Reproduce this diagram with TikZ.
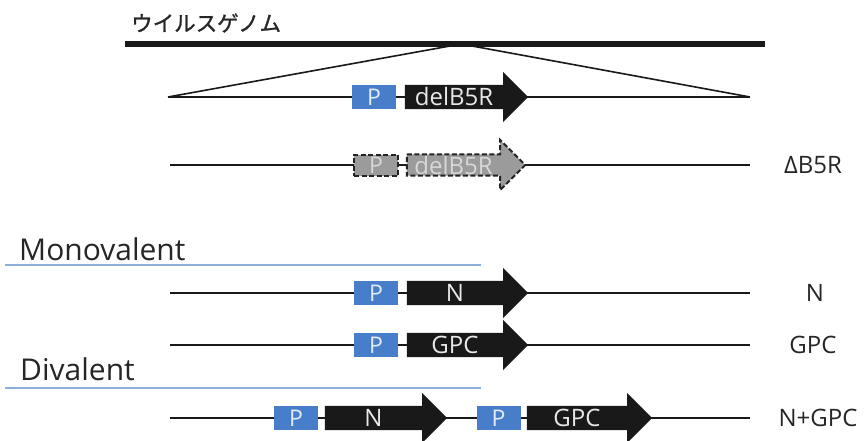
\documentclass[tikz,border=0pt]{standalone}
\usepackage{fontspec}
\setmainfont{Open Sans}
\newfontfamily\jpfont[FakeBold=1.2]{Noto Sans CJK JP}
\usetikzlibrary{calc}
\definecolor{pblue}{RGB}{72,126,201}
\definecolor{ptext}{RGB}{225,235,250}
\definecolor{lblue}{RGB}{140,175,220}
\definecolor{ablack}{RGB}{25,25,25}
\definecolor{atext}{RGB}{232,232,232}
\definecolor{gfill}{RGB}{155,155,155}
\definecolor{gtext}{RGB}{215,215,215}
\definecolor{gborder}{RGB}{35,35,35}
\pgfdeclarelayer{bg}
\pgfsetlayers{bg,main}
\newcommand\gpoly[1]{(#1.north west) -- (#1.north east) -- ($(#1.east)+(0,-25)$) -- ($(#1.east)+(25,0)$) -- ($(#1.east)+(0,25)$) -- (#1.south east) -- (#1.south west) -- cycle}
\begin{document}
\begin{tikzpicture}[x=1pt,y=-1pt,
  lbl/.style={font=\fontsize{24}{24}\selectfont, text=black!85, inner sep=0pt},
  head/.style={font=\fontsize{30}{30}\selectfont, text=black!85, inner sep=0pt, anchor=base west},
  pbox/.style={fill=pblue, minimum width=44pt, minimum height=24pt, inner sep=0pt, text=ptext, font=\fontsize{23}{23}\selectfont},
  pdash/.style={fill=gfill, draw=gborder, dash pattern=on 5pt off 2.5pt, line width=2pt, minimum width=44pt, minimum height=21pt, inner sep=0pt, text=gtext, font=\fontsize{23}{23}\selectfont},
  abody/.style={minimum height=24pt, inner sep=0pt, text=atext, font=\fontsize{24}{24}\selectfont},
  gbody/.style={minimum height=21pt, inner sep=0pt, text=gtext, font=\fontsize{24}{24}\selectfont},
  rowline/.style={draw=ablack, line width=2pt},
  genome/.style={draw=ablack, line width=6pt},
  sep/.style={draw=lblue, line width=2pt},
  blackarrow/.style={fill=ablack},
  grayarrow/.style={fill=gfill, draw=gborder, dash pattern=on 5pt off 2.5pt, line width=2pt}
]
\useasboundingbox (0,0) rectangle (866,441);

% genome
\node[anchor=west, inner sep=0pt, text=black!85, font=\jpfont\fontsize{21.5}{21.5}\selectfont] (gl) at (131,23) {ウイルスゲノム};
\coordinate (G1) at (125,44);
\coordinate (G2) at (765,44);
\coordinate (A1) at (450,46);
\coordinate (A2) at (472,46);

% row coordinates
\coordinate (L1) at (168,97);  \coordinate (R1) at (750,97);
\coordinate (L2) at (170,165); \coordinate (R2) at (750,165);
\coordinate (L3) at (170,293); \coordinate (R3) at (750,293);
\coordinate (L4) at (170,345); \coordinate (R4) at (750,345);
\coordinate (L5) at (170,418); \coordinate (R5) at (750,418);

% row 1
\node[pbox] (P1) at (374,97) {P};
\node[abody, minimum width=98pt] (B1) at (454,97) {delB5R};
% row 2
\node[pdash] (P2) at (376,165) {P};
\node[gbody, minimum width=93pt] (B2) at (453.5,165) {delB5R};
\node[lbl] (T2) at (813,165) {ΔB5R};
% monovalent
\node[head] (mono) at (19,260) {Monovalent};
\coordinate (S1a) at (5,265); \coordinate (S1b) at (481,265);
% row 3
\node[pbox] (P3) at (376,293) {P};
\node[abody, minimum width=96pt] (B3) at (455,293) {N};
\node[lbl] (T3) at (815,293) {N};
% row 4
\node[pbox] (P4) at (376,345) {P};
\node[abody, minimum width=96pt] (B4) at (455,345) {GPC};
\node[lbl] (T4) at (813,345) {GPC};
% divalent
\node[head] (di) at (20,380) {Divalent};
\coordinate (S2a) at (5,388); \coordinate (S2b) at (481,388);
% row 5
\node[pbox] (P5a) at (296,418) {P};
\node[abody, minimum width=97pt] (B5a) at (373.5,418) {N};
\node[pbox] (P5b) at (498.5,418) {P};
\node[abody, minimum width=100pt] (B5b) at (577,418) {GPC};
\node[lbl] (T5) at (818,418) {N+GPC};

\begin{pgfonlayer}{bg}
  \draw[genome] (G1) -- (G2);
  \draw[rowline, line width=1.6pt] (L1) -- (A1);
  \draw[rowline, line width=1.6pt] (A2) -- (R1);
  \draw[rowline] (L1) -- (R1);
  \draw[rowline] (L2) -- (R2);
  \draw[rowline] (L3) -- (R3);
  \draw[rowline] (L4) -- (R4);
  \draw[rowline] (L5) -- (R5);
  \draw[sep] (S1a) -- (S1b);
  \draw[sep] (S2a) -- (S2b);
  \path[blackarrow] \gpoly{B1};
  \path[grayarrow] \gpoly{B2};
  \path[blackarrow] \gpoly{B3};
  \path[blackarrow] \gpoly{B4};
  \path[blackarrow] \gpoly{B5a};
  \path[blackarrow] \gpoly{B5b};
\end{pgfonlayer}
\end{tikzpicture}
\end{document}
